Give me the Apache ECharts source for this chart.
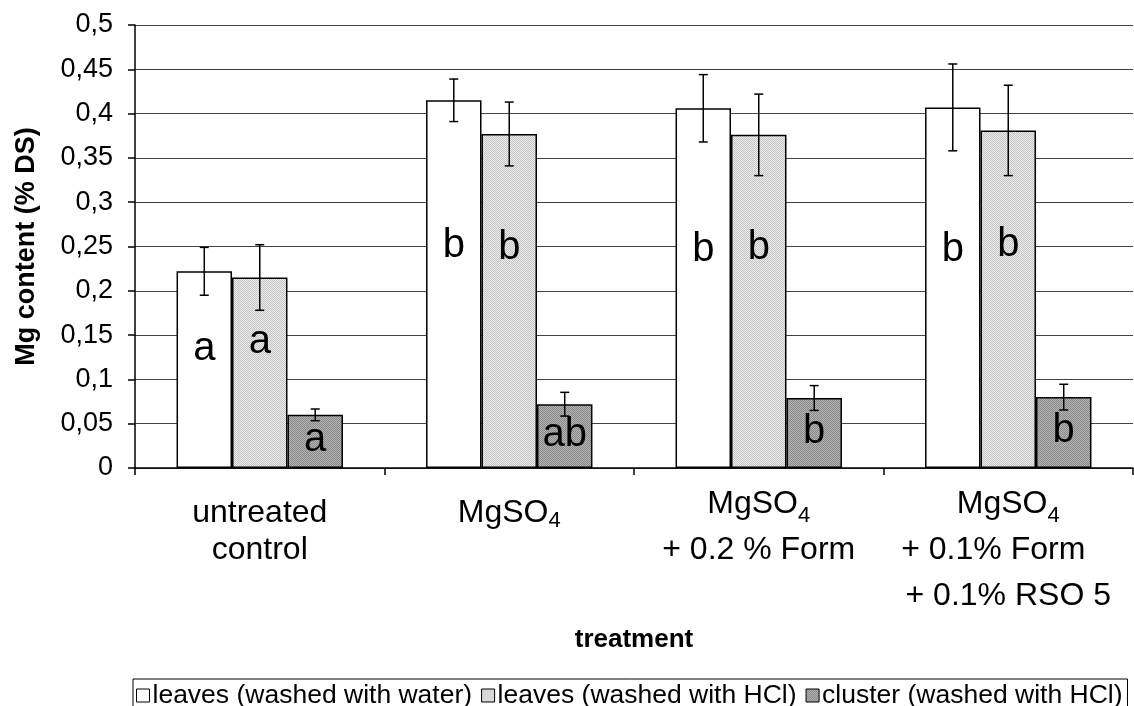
<!DOCTYPE html>
<html>
<head>
<meta charset="utf-8">
<script src="https://cdn.jsdelivr.net/npm/echarts@6/dist/echarts.min.js"></script>
<style>
html,body{margin:0;padding:0;background:#fff;}
#chart{width:1134px;height:706px;}
</style>
</head>
<body>
<div id="chart"></div>
<script>
// ---- data ----
const categories = ['untreated\ncontrol', 'MgSO4', 'MgSO4\n+ 0.2 % Form', 'MgSO4\n+ 0.1% Form\n+ 0.1% RSO 5'];
const seriesNames = ['leaves (washed with water)', 'leaves (washed with HCl)', 'cluster (washed with HCl)'];
const leavesWater = [0.222, 0.415, 0.406, 0.407];
const leavesWaterErr = [0.027, 0.024, 0.038, 0.049];
const leavesHCl = [0.215, 0.377, 0.376, 0.381];
const leavesHClErr = [0.037, 0.036, 0.046, 0.051];
const cluster = [0.060, 0.072, 0.079, 0.080];
const clusterErr = [0.0066, 0.0134, 0.014, 0.0145];
const lettersWater = ['a', 'b', 'b', 'b'];
const lettersHCl = ['a', 'b', 'b', 'b'];
const lettersCluster = ['a', 'ab', 'b', 'b'];
const yTicks = { min: 0, max: 0.5, interval: 0.05 };

const FONT = "'Liberation Sans', Arial, Helvetica, sans-serif";

function makePattern(base, dot) {
  const cv = document.createElement('canvas');
  cv.width = 2; cv.height = 2;
  const ctx = cv.getContext('2d');
  ctx.fillStyle = base; ctx.fillRect(0, 0, 2, 2);
  ctx.fillStyle = dot; ctx.fillRect(0, 0, 1, 1); ctx.fillRect(1, 1, 1, 1);
  return { image: cv, repeat: 'repeat' };
}

const fills = ['#ffffff', makePattern('#ececec', '#c4c4c4'), makePattern('#b4b4b4', '#888888')];
const values = [leavesWater, leavesHCl, cluster];
const errors = [leavesWaterErr, leavesHClErr, clusterErr];
const letters = [lettersWater, lettersHCl, lettersCluster];
const letterPos = ['39.5%', '34%', '48%'];
const CAT_GAP = 0.333;

function fmtLine(line, style) {
  if (line.indexOf('MgSO4') === 0) {
    return '{' + style + '|MgSO}{' + (style === 't' ? 'subT' : 'subN') + '|4}' +
      (line.length > 5 ? '{' + style + '|' + line.slice(5) + '}' : '');
  }
  if (line === '+ 0.1% Form') return '{tl|' + line + '}';
  return '{' + style + '|' + line + '}';
}

const series = [];
values.forEach((vals, k) => {
  series.push({
    name: seriesNames[k],
    type: 'bar',
    data: vals,
    barGap: '0%',
    barCategoryGap: (CAT_GAP * 100) + '%',
    itemStyle: { color: fills[k], borderColor: '#000', borderWidth: 1.5 },
    label: {
      show: true,
      position: ['50%', letterPos[k]],
      align: 'center',
      verticalAlign: 'middle',
      formatter: p => letters[k][p.dataIndex],
      fontFamily: FONT,
      fontSize: 40,
      color: '#000'
    },
    z: 2
  });
});
values.forEach((vals, k) => {
  series.push({
    name: seriesNames[k] + ' error',
    type: 'custom',
    data: vals.map((v, i) => [i, v, errors[k][i]]),
    z: 5,
    silent: true,
    renderItem: function (params, api) {
      const i = api.value(0), v = api.value(1), e = api.value(2);
      const band = api.size([1, 0])[0];
      const bw = band * (1 - CAT_GAP) / 3;
      const cx = api.coord([i, v])[0] + (k - 1) * bw;
      const yTop = api.coord([i, v + e])[1];
      const yBot = api.coord([i, v - e])[1];
      const cap = 4.5;
      const st = { stroke: '#000', lineWidth: 1.5 };
      return {
        type: 'group',
        children: [
          { type: 'line', shape: { x1: cx, y1: yTop, x2: cx, y2: yBot }, style: st },
          { type: 'line', shape: { x1: cx - cap, y1: yTop, x2: cx + cap, y2: yTop }, style: st },
          { type: 'line', shape: { x1: cx - cap, y1: yBot, x2: cx + cap, y2: yBot }, style: st }
        ]
      };
    }
  });
});

const chart = echarts.init(document.getElementById('chart'), null, { renderer: 'canvas' });
chart.setOption({
  animation: false,
  backgroundColor: '#fff',
  textStyle: { fontFamily: FONT },
  grid: { left: 135, right: 1, top: 25, bottom: 238, containLabel: false },
  legend: {
    data: seriesNames,
    left: 133,
    top: 679,
    orient: 'horizontal',
    itemWidth: 13,
    itemHeight: 13,
    itemGap: 9,
    padding: [3, 5, 3, 3],
    borderColor: '#000',
    borderWidth: 1,
    textStyle: { fontFamily: FONT, fontSize: 26.5, color: '#000', padding: [0, 0, 0, -2] },
    itemStyle: { borderColor: '#000', borderWidth: 1 },
    icon: 'rect'
  },
  xAxis: {
    type: 'category',
    data: categories,
    name: 'treatment',
    nameLocation: 'middle',
    nameGap: 159,
    nameTextStyle: { fontFamily: FONT, fontSize: 26, fontWeight: 'bold', color: '#000' },
    axisLine: { show: true, lineStyle: { color: '#000', width: 1.5 } },
    axisTick: { show: true, length: 7, inside: false, alignWithLabel: false, lineStyle: { color: '#000', width: 1.5 } },
    axisLabel: {
      interval: 0,
      margin: 13,
      color: '#000',
      fontFamily: FONT,
      formatter: function (value) {
        const lines = value.split('\n');
        const tall = lines.length > 1 && lines[0] === 'MgSO4';
        const style = tall ? 't' : 'n';
        const out = lines.map(l => fmtLine(l, style));
        if (!tall) out.unshift('{sp| }');
        return out.join('\n');
      },
      rich: {
        sp: { fontSize: 10, lineHeight: 14 },
        n: { fontSize: 32, lineHeight: 37, fontFamily: FONT, color: '#000' },
        t: { fontSize: 32, lineHeight: 46, fontFamily: FONT, color: '#000' },
        tl: { fontSize: 32, lineHeight: 46, fontFamily: FONT, color: '#000', padding: [0, 30, 0, 0] },
        subN: { fontSize: 22, lineHeight: 21, verticalAlign: 'bottom', fontFamily: FONT, color: '#000' },
        subT: { fontSize: 22, lineHeight: 30, verticalAlign: 'bottom', fontFamily: FONT, color: '#000' }
      }
    },
    splitLine: { show: false }
  },
  yAxis: {
    type: 'value',
    min: yTicks.min,
    max: yTicks.max,
    interval: yTicks.interval,
    name: 'Mg content (% DS)',
    nameLocation: 'middle',
    nameRotate: 90,
    nameGap: 95,
    nameTextStyle: { fontFamily: FONT, fontSize: 27, fontWeight: 'bold', color: '#000' },
    axisLine: { show: true, lineStyle: { color: '#000', width: 1.5 } },
    axisTick: { show: true, length: 7, inside: false, lineStyle: { color: '#000', width: 1.5 } },
    axisLabel: {
      margin: 22,
      fontSize: 27,
      color: '#000',
      fontFamily: FONT,
      formatter: v => String(Math.round(v * 1000) / 1000).replace('.', ',')
    },
    splitLine: { show: true, lineStyle: { color: '#444', width: 1.2 } }
  },
  series: series
});
</script>
</body>
</html>
